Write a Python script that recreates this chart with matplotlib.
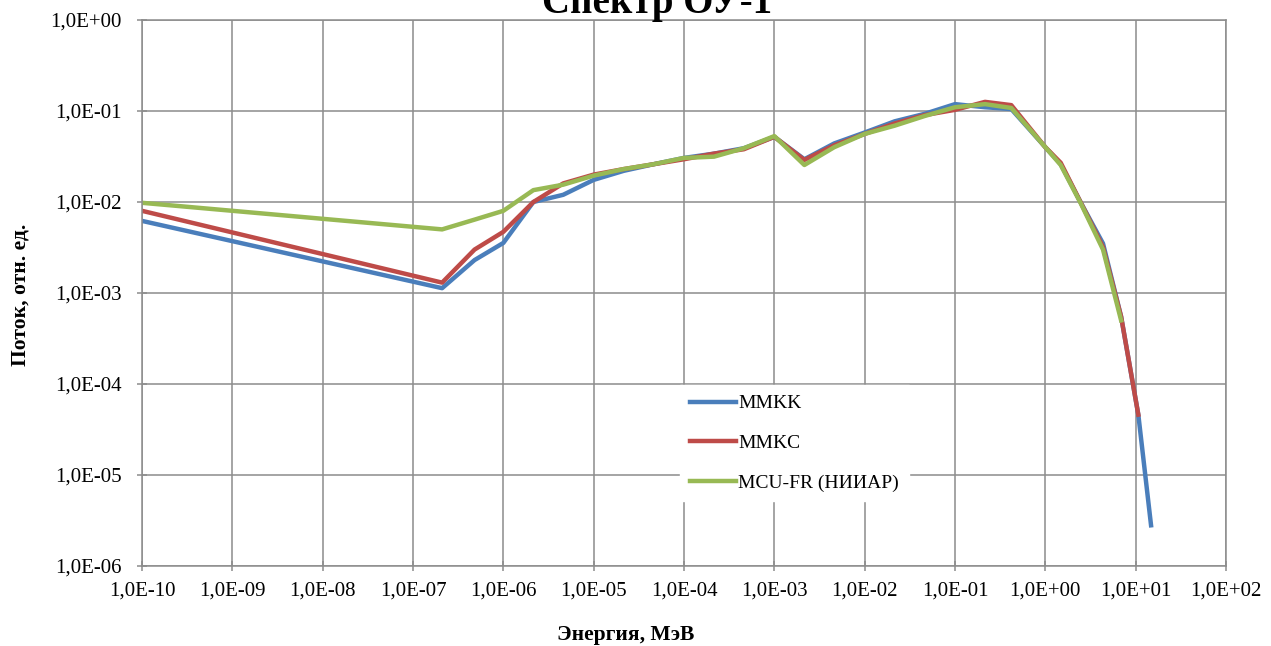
import numpy as np
import matplotlib
matplotlib.use("Agg")
from matplotlib import pyplot as plt
from matplotlib.ticker import FixedLocator, FuncFormatter, NullLocator

plt.rcParams['font.family'] = ['Liberation Serif', 'DejaVu Serif']

# energy grid, MeV
e_mmkk = [1e-10, 2.1e-7, 4.8e-7, 1e-6, 2.15e-6, 4.6e-6, 1e-5, 2.15e-5, 4.6e-5, 1e-4, 2.15e-4, 4.6e-4,
          1e-3, 2.15e-3, 4.6e-3, 1e-2, 2.15e-2, 4.6e-2, 1e-1, 2.15e-1, 4.2e-1, 1.0, 1.48, 2.45, 4.35,
          6.9, 10.7, 14.8]
f_mmkk = [6.2e-3, 1.13e-3, 2.3e-3, 3.55e-3, 1.0e-2, 1.2e-2, 1.75e-2, 2.2e-2, 2.6e-2, 3.05e-2, 3.4e-2, 3.9e-2,
          5.2e-2, 2.95e-2, 4.4e-2, 5.8e-2, 7.7e-2, 9.3e-2, 1.19e-1, 1.1e-1, 1.05e-1, 4.0e-2, 2.6e-2, 1.0e-2, 3.5e-3,
          5.5e-4, 4.6e-5, 2.8e-6]

e_mmkc = [1e-10, 2.1e-7, 4.8e-7, 1e-6, 2.15e-6, 4.6e-6, 1e-5, 2.15e-5, 4.6e-5, 1e-4, 2.15e-4, 4.6e-4,
          1e-3, 2.15e-3, 4.6e-3, 1e-2, 2.15e-2, 4.6e-2, 1e-1, 2.15e-1, 4.2e-1, 1.0, 1.48, 2.45, 4.35,
          6.9, 10.7]
f_mmkc = [8.0e-3, 1.3e-3, 3.0e-3, 4.7e-3, 1.0e-2, 1.6e-2, 2.0e-2, 2.3e-2, 2.6e-2, 2.95e-2, 3.4e-2, 3.8e-2,
          5.2e-2, 2.9e-2, 4.2e-2, 5.6e-2, 7.3e-2, 9.0e-2, 1.03e-1, 1.26e-1, 1.16e-1, 4.0e-2, 2.7e-2, 1.0e-2, 3.2e-3,
          5.5e-4, 4.6e-5]

e_mcu = [1e-10, 2.1e-7, 4.8e-7, 1e-6, 2.15e-6, 4.6e-6, 1e-5, 2.15e-5, 4.6e-5, 1e-4, 2.15e-4, 4.6e-4,
         1e-3, 2.15e-3, 4.6e-3, 1e-2, 2.15e-2, 4.6e-2, 1e-1, 2.15e-1, 4.2e-1, 1.0, 1.48, 2.45, 4.35,
         6.9]
f_mcu = [9.8e-3, 5.0e-3, 6.4e-3, 8.0e-3, 1.35e-2, 1.55e-2, 1.95e-2, 2.3e-2, 2.6e-2, 3.05e-2, 3.15e-2, 3.9e-2,
         5.3e-2, 2.55e-2, 4.0e-2, 5.6e-2, 6.9e-2, 8.8e-2, 1.1e-1, 1.19e-1, 1.08e-1, 4.0e-2, 2.55e-2, 9.8e-3, 3.0e-3,
         5.0e-4]

labels = ['MMKK', 'MMKC', 'MCU-FR (НИИАР)']
colors = ['#4A7EBB', '#BE4B48', '#98B954']

x_ticks = [10.0**k for k in range(-10, 3)]
y_ticks = [10.0**k for k in range(-6, 1)]


def sci_comma(v, pos):
    k = int(round(np.log10(v)))
    return "1,0E%s%02d" % ('+' if k >= 0 else '-', abs(k))


fig = plt.figure(figsize=(12.71, 6.46), dpi=100)
ax = fig.add_axes([142/1271, 1-566/646, (1226-142)/1271, (566-20)/646])

for e, f, lab, c in zip([e_mmkk, e_mmkc, e_mcu], [f_mmkk, f_mmkc, f_mcu], labels, colors):
    ax.plot(e, f, color=c, lw=3.2, label=lab, solid_joinstyle='round')

ax.set_xscale('log')
ax.set_yscale('log')
ax.set_xlim(1e-10, 1e2)
ax.set_ylim(1e-6, 1e0)
ax.xaxis.set_major_locator(FixedLocator(x_ticks))
ax.yaxis.set_major_locator(FixedLocator(y_ticks))
ax.xaxis.set_minor_locator(NullLocator())
ax.yaxis.set_minor_locator(NullLocator())
ax.xaxis.set_major_formatter(FuncFormatter(sci_comma))
ax.yaxis.set_major_formatter(FuncFormatter(sci_comma))
ax.grid(True, color='#8C8C8C', lw=1.1)
ax.set_axisbelow(True)
for s in ax.spines.values():
    s.set_color('#8C8C8C')
    s.set_linewidth(1.1)
ax.tick_params(axis='both', which='major', direction='inout', length=7, width=1.1,
               color='#8C8C8C', labelsize=15, labelcolor='black')
ax.tick_params(axis='x', pad=8)
ax.tick_params(axis='y', pad=11)

# axis titles (placed like in the source picture)
fig.text(626/1271, 1-640/646, 'Энергия, МэВ', ha='center', va='baseline',
         fontsize=15.5, fontweight='bold')
fig.text(21/1271, 1-295/646, 'Поток, отн. ед.', ha='center', va='center', rotation=90,
         fontsize=15.5, fontweight='bold')

# title is cut by the top edge in the source too
fig.text(657/1271, 1-13/646, 'Спектр ОУ-1', ha='center', va='baseline',
         fontsize=28, fontweight='bold')

leg = ax.legend(loc='upper left', bbox_to_anchor=((680-142)/1084, (566-385)/546),
                frameon=True, fontsize=14, handlelength=2.4, handletextpad=0.1,
                labelspacing=1.13, borderpad=0.5, borderaxespad=0)
leg.get_frame().set_edgecolor('white')
leg.get_frame().set_facecolor('white')
leg.get_frame().set_alpha(1)
leg.get_frame().set_boxstyle('square', pad=0)

fig.savefig('out.png', dpi=100)
